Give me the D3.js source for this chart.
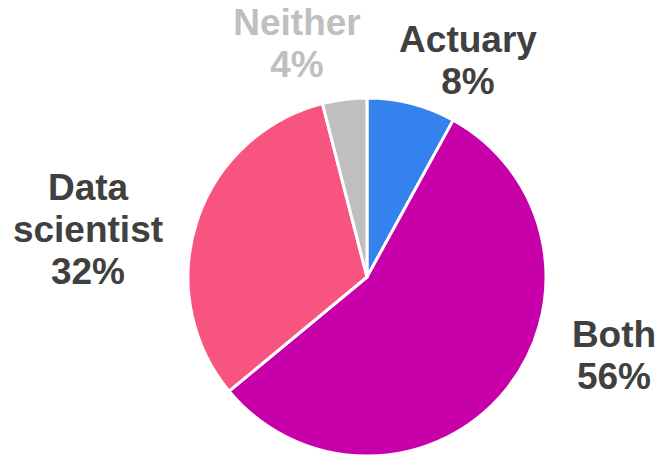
<!DOCTYPE html>
<html>
<head>
<meta charset="utf-8">
<script src="https://cdn.jsdelivr.net/npm/d3@7"></script>
<style>
  html, body { margin: 0; padding: 0; background: #fff; }
  svg { display: block; }
</style>
</head>
<body>
<svg id="chart" width="662" height="457"></svg>
<script>
// Survey shares: how respondents describe themselves
const categories = ["Actuary", "Both", "Data scientist", "Neither"];
const values = [8, 56, 32, 4];
const colors = ["#3482ED", "#C800AA", "#F75480", "#BFBFBF"];
const labelColors = ["#404040", "#404040", "#404040", "#BFBFBF"];
const labelLines = [["Actuary"], ["Both"], ["Data", "scientist"], ["Neither"]];

// Label placement: first-line baseline, as pixel offsets from the pie centre
const labelOffsets = [
  { dx: 101, dy: -225 },
  { dx: 247, dy: 70 },
  { dx: -279, dy: -77 },
  { dx: -70, dy: -242 }
];

const width = 662, height = 457;
const cx = 367, cy = 277, radius = 179;
const fontSize = 37, lineHeight = 42;

const svg = d3.select("#chart");
const g = svg.append("g").attr("transform", `translate(${cx},${cy})`);

const pie = d3.pie().sort(null).value(d => d.value);
const arc = d3.arc().innerRadius(0).outerRadius(radius);

const data = categories.map((c, i) => ({ name: c, value: values[i], i }));
const arcs = pie(data);

g.selectAll("path.slice")
  .data(arcs)
  .join("path")
  .attr("class", "slice")
  .attr("d", arc)
  .attr("fill", d => colors[d.data.i])
  .attr("stroke", "#fff")
  .attr("stroke-width", 3)
  .attr("stroke-linejoin", "round");

const total = d3.sum(values);
const labels = g.selectAll("text.label")
  .data(arcs)
  .join("text")
  .attr("class", "label")
  .attr("text-anchor", "middle")
  .attr("font-family", "'Liberation Sans', Arial, sans-serif")
  .attr("font-weight", "bold")
  .attr("font-size", fontSize)
  .attr("fill", d => labelColors[d.data.i])
  .attr("transform", d => {
    const o = labelOffsets[d.data.i];
    return `translate(${o.dx},${o.dy})`;
  });

labels.each(function(d) {
  const lines = labelLines[d.data.i].concat([Math.round(d.data.value / total * 100) + "%"]);
  const t = d3.select(this);
  lines.forEach((ln, k) => {
    t.append("tspan")
      .attr("x", 0)
      .attr("y", k * lineHeight)
      .text(ln);
  });
});
</script>
</body>
</html>
